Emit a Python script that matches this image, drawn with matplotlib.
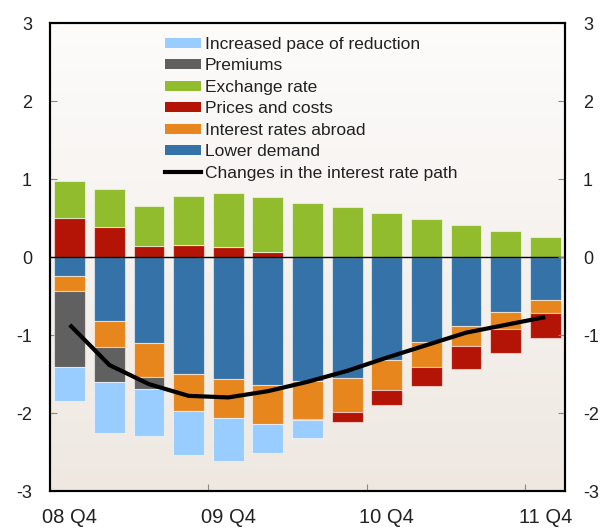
import matplotlib.pyplot as plt
import numpy as np
from matplotlib.colors import LinearSegmentedColormap
from matplotlib.patches import Patch
from matplotlib.lines import Line2D

plt.rcParams['font.family'] = ['Liberation Sans', 'DejaVu Sans']
plt.rcParams['axes.unicode_minus'] = False

quarters = ['08 Q4', '09 Q1', '09 Q2', '09 Q3', '09 Q4', '10 Q1', '10 Q2',
            '10 Q3', '10 Q4', '11 Q1', '11 Q2', '11 Q3', '11 Q4']
tick_labels = ['08 Q4', '09 Q4', '10 Q4', '11 Q4']

lower_demand = [-0.24, -0.82, -1.10, -1.50, -1.56, -1.64, -1.59, -1.55, -1.32, -1.09, -0.88, -0.71, -0.55]
rates_abroad = [-0.19, -0.33, -0.44, -0.48, -0.51, -0.50, -0.49, -0.44, -0.38, -0.32, -0.26, -0.21, -0.17]
prices_costs = [0.50, 0.39, 0.14, 0.15, 0.13, 0.06, -0.015, -0.12, -0.20, -0.25, -0.29, -0.31, -0.32]
exchange_rate = [0.47, 0.48, 0.52, 0.63, 0.69, 0.71, 0.69, 0.645, 0.57, 0.49, 0.415, 0.33, 0.26]
premiums = [-0.98, -0.45, -0.15, 0, 0, 0, 0, 0, 0, 0, 0, 0, 0]
pace = [-0.44, -0.66, -0.61, -0.56, -0.54, -0.37, -0.23, 0, 0, 0, 0, 0, 0]
rate_path = [-0.87, -1.385, -1.63, -1.78, -1.80, -1.72, -1.60, -1.46, -1.29, -1.13, -0.97, -0.87, -0.77]

fig = plt.figure(figsize=(6.03, 5.29), dpi=100)
ax = fig.add_axes([0.0829, 0.0718, 0.8541, 0.8847])

x = np.arange(len(quarters))
w = 0.78
edge = dict(edgecolor=(1, 1, 1, 0.55), linewidth=0.8, zorder=2)

# background gradient
cmap = LinearSegmentedColormap.from_list('bg', ['#eee8e1', '#fdfcfb'])
grad = np.linspace(0, 1, 256).reshape(-1, 1)
ax.imshow(grad, extent=[-0.5, 12.5, -3, 3], aspect='auto', cmap=cmap,
          origin='lower', zorder=0)

series = [
    (lower_demand, '#3472a8', 'Lower demand'),
    (rates_abroad, '#e8861e', 'Interest rates abroad'),
    (prices_costs, '#b41406', 'Prices and costs'),
    (premiums, '#606060', 'Premiums'),
    (pace, '#99ccff', 'Increased pace of reduction'),
    (exchange_rate, '#90bc2d', 'Exchange rate'),
]
pos = np.zeros(len(x))
neg = np.zeros(len(x))
for vals, col, lab in series:
    v = np.array(vals, dtype=float)
    b = np.where(v >= 0, pos, neg)
    ax.bar(x, v, w, bottom=b, color=col, **edge)
    pos = pos + np.where(v > 0, v, 0)
    neg = neg + np.where(v < 0, v, 0)

ax.axhline(0, color='black', linewidth=1, zorder=3)
ax.plot(x, rate_path, color='black', linewidth=3, zorder=4, solid_capstyle='butt')

ax.set_xlim(-0.5, 12.5)
ax.set_ylim(-3, 3)
ax.set_yticks(range(-3, 4))
ax.set_xticks([0, 4, 8, 12])
ax.set_xticklabels(tick_labels)
ax.set_xticks([3.5, 7.5, 11.5], minor=True)
ax.tick_params(axis='x', which='major', length=0, pad=12, labelsize=14.5, colors='#222222')
ax.tick_params(axis='x', which='minor', direction='in', length=5, width=0.8, color='#888888')
ax.tick_params(axis='y', direction='in', length=5, width=0.8, pad=13, labelsize=13,
               color='#888888', labelcolor='#222222')
for s in ax.spines.values():
    s.set_linewidth(1.5)

ax2 = ax.twinx()
ax2.set_ylim(-3, 3)
ax2.set_yticks(range(-3, 4))
ax2.tick_params(axis='y', direction='in', length=5, width=0.8, pad=13, labelsize=13,
                color='#888888', labelcolor='#222222')
for s in ax2.spines.values():
    s.set_linewidth(1.5)

handles = [
    Patch(facecolor='#99ccff', label='Increased pace of reduction'),
    Patch(facecolor='#606060', label='Premiums'),
    Patch(facecolor='#90bc2d', label='Exchange rate'),
    Patch(facecolor='#b41406', label='Prices and costs'),
    Patch(facecolor='#e8861e', label='Interest rates abroad'),
    Patch(facecolor='#3472a8', label='Lower demand'),
    Line2D([], [], color='black', linewidth=3, label='Changes in the interest rate path'),
]
ax2.legend(handles=handles, loc='upper left', bbox_to_anchor=(0.223, 0.97),
           frameon=False, fontsize=12.5, handlelength=2.1, handleheight=0.5,
           handletextpad=0.2, labelspacing=0.37, borderpad=0, borderaxespad=0,
           labelcolor='#222222')

fig.savefig('out.png', dpi=100)
